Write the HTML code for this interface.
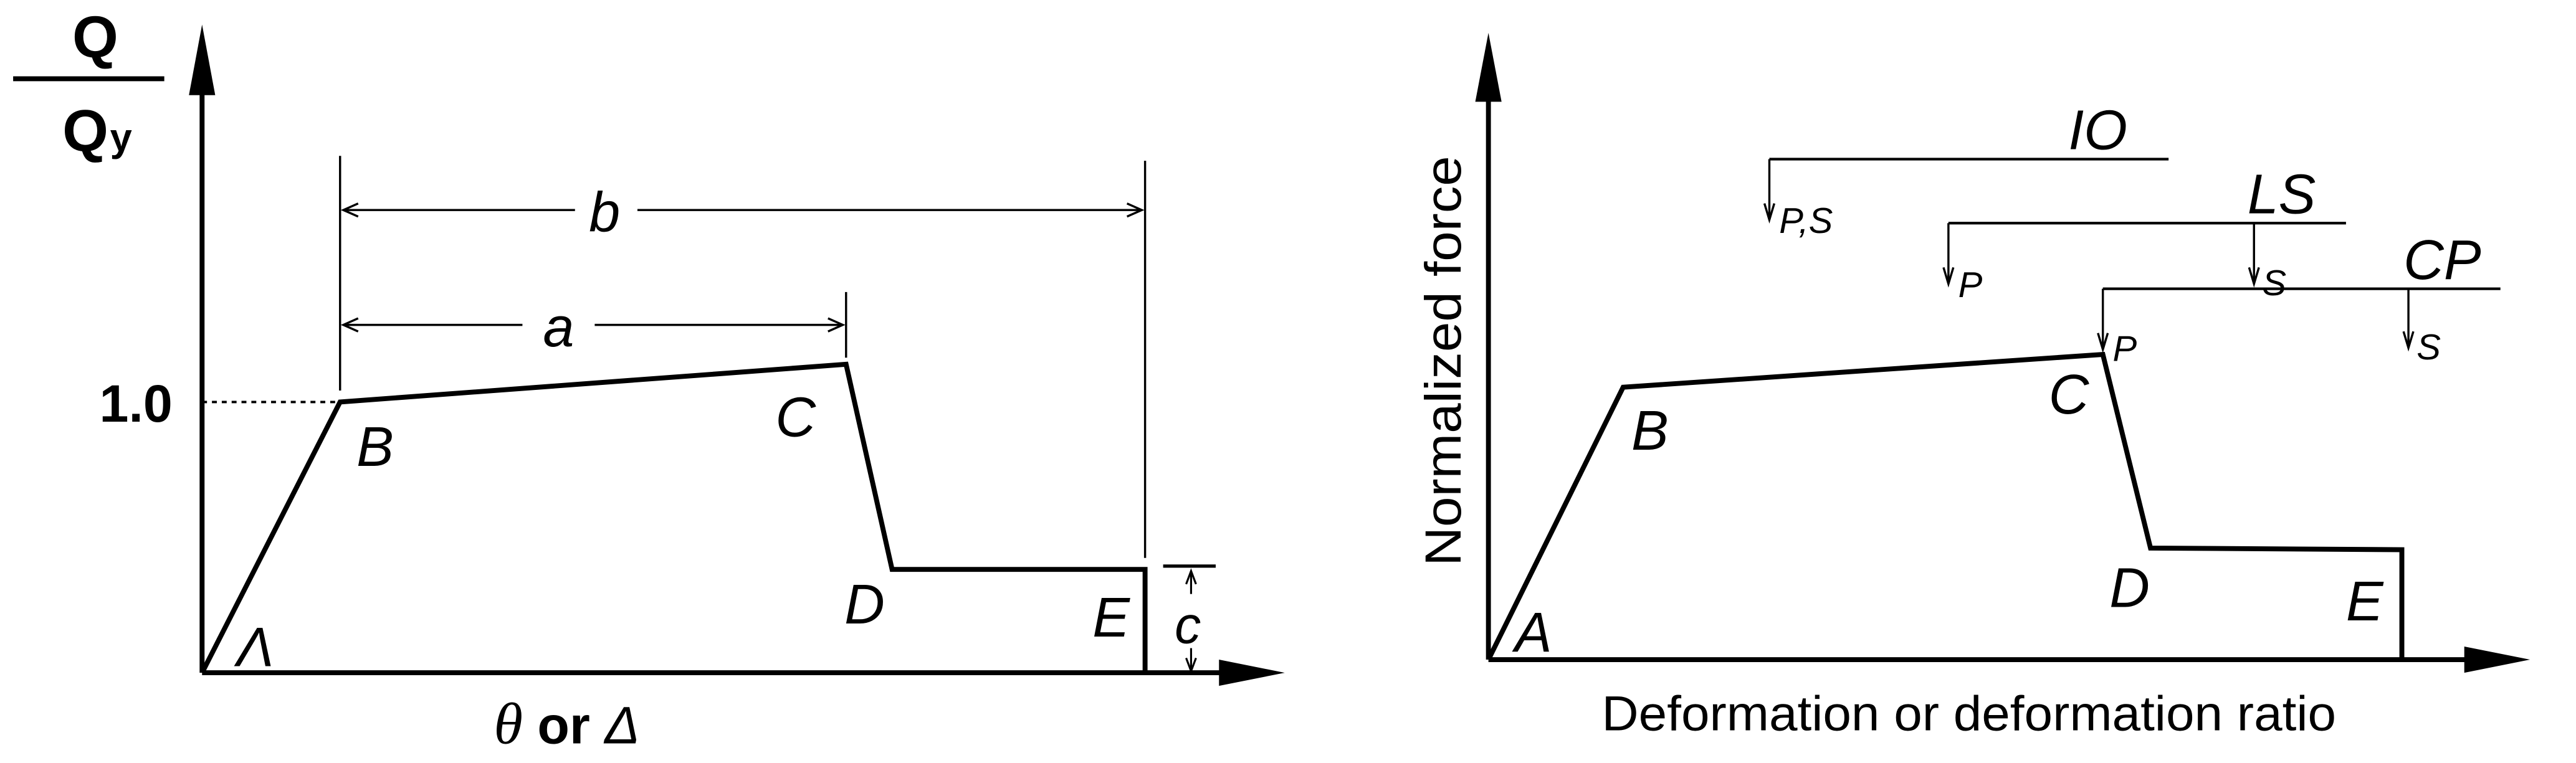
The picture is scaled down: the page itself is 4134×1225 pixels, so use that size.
<!DOCTYPE html>
<html><head><meta charset="utf-8"><style>html,body{margin:0;padding:0;background:#fff}svg{display:block}</style></head>
<body>
<svg width="4134" height="1225" viewBox="0 0 1568 465" preserveAspectRatio="none" xmlns="http://www.w3.org/2000/svg" font-family="Liberation Sans, sans-serif">
<rect width="1568" height="465" fill="#fff"/>
<!-- LEFT -->
<g stroke="#000" fill="none">
<line x1="123" y1="410" x2="123" y2="55" stroke-width="3"/>
<line x1="123" y1="410" x2="748" y2="410" stroke-width="3"/>
<polyline points="123,410 207,245 515,222 543,347 697,347 697,410" stroke-width="3"/>
<line x1="123" y1="245" x2="207" y2="245" stroke-width="1.5" stroke-dasharray="3,3"/>
<line x1="207" y1="95" x2="207" y2="238" stroke-width="1.3"/>
<line x1="697" y1="98" x2="697" y2="340" stroke-width="1.3"/>
<line x1="515" y1="178" x2="515" y2="218" stroke-width="1.3"/>
<line x1="209" y1="128" x2="350" y2="128" stroke-width="1.3"/>
<line x1="388" y1="128" x2="695" y2="128" stroke-width="1.3"/>
<line x1="209" y1="198" x2="318" y2="198" stroke-width="1.3"/>
<line x1="362" y1="198" x2="513" y2="198" stroke-width="1.3"/>
<polyline points="218,124 209,128 218,132" stroke-width="1.3"/>
<polyline points="686,124 695,128 686,132" stroke-width="1.3"/>
<polyline points="218,194 209,198 218,202" stroke-width="1.3"/>
<polyline points="504,194 513,198 504,202" stroke-width="1.3"/>
<line x1="708" y1="345" x2="740" y2="345" stroke-width="2"/>
<line x1="725" y1="348" x2="725" y2="362" stroke-width="1.2"/>
<line x1="725" y1="395" x2="725" y2="409" stroke-width="1.2"/>
<polyline points="722,356 725,348 728,356" stroke-width="1.2"/>
<polyline points="722,401 725,409 728,401" stroke-width="1.2"/>
<line x1="8" y1="48" x2="100" y2="48" stroke-width="3"/>
</g>
<polygon points="123,15 115,58 131,58" fill="#000"/>
<polygon points="782,410 742,402 742,418" fill="#000"/>
<g font-size="34" fill="#000">
<text x="58" y="35" font-weight="bold" font-size="36" text-anchor="middle">Q</text>
<text x="52" y="92" font-weight="bold" font-size="36" text-anchor="middle">Q</text>
<text x="67" y="92" font-weight="bold" font-size="24">y</text>
<text x="105" y="257" font-weight="bold" text-anchor="end" font-size="32">1.0</text>
<text x="144" y="406" font-style="italic">Λ</text>
<text x="217" y="284" font-style="italic">B</text>
<text x="472" y="266" font-style="italic">C</text>
<text x="514" y="380" font-style="italic">D</text>
<text x="665" y="388" font-style="italic">E</text>
<text x="715" y="392" font-style="italic" font-size="32">c</text>
<text x="368" y="141" font-style="italic" text-anchor="middle">b</text>
<text x="340" y="211" font-style="italic" text-anchor="middle">a</text>
<text x="345" y="453" text-anchor="middle" font-weight="bold" font-size="32"><tspan font-family="Liberation Serif, serif" font-style="italic" font-weight="normal" font-size="36">θ</tspan> or <tspan font-style="italic" font-weight="normal">Δ</tspan></text>
</g>
<!-- RIGHT -->
<g stroke="#000" fill="none">
<line x1="906" y1="402" x2="906" y2="60" stroke-width="3"/>
<line x1="906" y1="402" x2="1505" y2="402" stroke-width="3"/>
<polyline points="906,402 988,236 1280,216 1309,334 1462,335 1462,402" stroke-width="3"/>
<line x1="1077" y1="97" x2="1320" y2="97" stroke-width="1.6"/>
<line x1="1077" y1="97" x2="1077" y2="134" stroke-width="1.3"/>
<line x1="1186" y1="136" x2="1428" y2="136" stroke-width="1.6"/>
<line x1="1186" y1="136" x2="1186" y2="173" stroke-width="1.3"/>
<line x1="1372" y1="136" x2="1372" y2="173" stroke-width="1.3"/>
<line x1="1280" y1="176" x2="1522" y2="176" stroke-width="1.6"/>
<line x1="1280" y1="176" x2="1280" y2="213" stroke-width="1.3"/>
<line x1="1466" y1="176" x2="1466" y2="212" stroke-width="1.3"/>
<polyline points="1074,124 1077,134 1080,124" stroke-width="1.3"/>
<polyline points="1183,163 1186,173 1189,163" stroke-width="1.3"/>
<polyline points="1369,163 1372,173 1375,163" stroke-width="1.3"/>
<polyline points="1277,203 1280,213 1283,203" stroke-width="1.3"/>
<polyline points="1463,202 1466,212 1469,202" stroke-width="1.3"/>
</g>
<polygon points="906,20 898,62 914,62" fill="#000"/>
<polygon points="1540,402 1500,394 1500,410" fill="#000"/>
<g fill="#000" font-style="italic">
<text x="922" y="397" font-size="34">A</text>
<text x="993" y="274" font-size="34">B</text>
<text x="1247" y="252" font-size="34">C</text>
<text x="1284" y="370" font-size="34">D</text>
<text x="1428" y="378" font-size="34">E</text>
<text x="1259" y="91" font-size="34">IO</text>
<text x="1368" y="130" font-size="34">LS</text>
<text x="1463" y="170" font-size="34">CP</text>
<text x="1083" y="142" font-size="22">P,S</text>
<text x="1192" y="181" font-size="22">P</text>
<text x="1377" y="180" font-size="22">S</text>
<text x="1286" y="220" font-size="22">P</text>
<text x="1471" y="219" font-size="22">S</text>
</g>
<text x="975" y="445" font-size="30" textLength="447" lengthAdjust="spacingAndGlyphs" fill="#000">Deformation or deformation ratio</text>
<text transform="translate(889,345) rotate(-90)" font-size="31" textLength="250" lengthAdjust="spacingAndGlyphs" fill="#000">Normalized force</text>
</svg>
</body></html>
